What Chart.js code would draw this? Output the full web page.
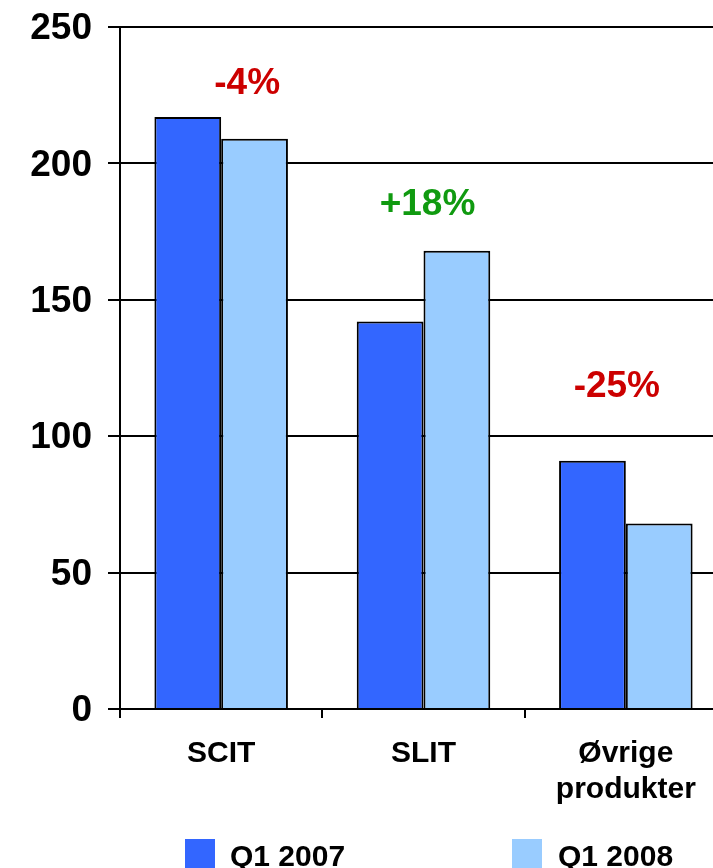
<!DOCTYPE html>
<html>
<head>
<meta charset="utf-8">
<script src="https://cdn.jsdelivr.net/npm/chart.js@4.4.0/dist/chart.umd.min.js"></script>
<style>
body { margin: 0; background: #fff; overflow: hidden; }
#wrap { width: 713px; height: 868px; overflow: hidden; position: relative; }
canvas { position: absolute; left: 0; top: 0; }
</style>
</head>
<body>
<div id="wrap"><canvas id="myChart" width="740" height="880"></canvas></div>
<script>
var categories = ['SCIT', 'SLIT', ['Øvrige', 'produkter']];
var q1_2007 = [217, 142, 91];
var q1_2008 = [209, 168, 68];
var changes = ['-4%', '+18%', '-25%'];
var changeY = [229, 185, 118];
var yTicks = [0, 50, 100, 150, 200, 250];

var changeColors = ['#CC0000', '#109A10', '#CC0000'];
var changeShift = [26, 4, -9];

Chart.defaults.font.family = "'Liberation Sans', Arial, sans-serif";
Chart.defaults.font.weight = 'bold';
Chart.defaults.color = '#000';

// percent change labels above each group
var changeLabels = {
    id: 'changeLabels',
    afterDatasetsDraw: function (chart) {
        var c = chart.ctx, x = chart.scales.x, y = chart.scales.y;
        c.save();
        c.font = "bold 37px 'Liberation Sans', Arial, sans-serif";
        c.textAlign = 'center';
        c.textBaseline = 'middle';
        changes.forEach(function (t, i) {
            c.fillStyle = changeColors[i];
            c.fillText(t, x.getPixelForValue(i) + changeShift[i], y.getPixelForValue(changeY[i]));
        });
        c.restore();
    }
};

// legend drawn at the bottom, wide apart like the original
var bottomLegend = {
    id: 'bottomLegend',
    afterDraw: function (chart) {
        var c = chart.ctx;
        var boxX = [185, 512], textX = [230, 558];
        c.save();
        c.font = "bold 30px 'Liberation Sans', Arial, sans-serif";
        c.textBaseline = 'alphabetic';
        chart.data.datasets.forEach(function (ds, i) {
            c.fillStyle = ds.backgroundColor;
            c.fillRect(boxX[i], 839, 30, 30);
            c.fillStyle = '#000';
            c.fillText(ds.label, textX[i], 866);
        });
        c.restore();
    }
};

var ctx = document.getElementById('myChart').getContext('2d');
var myChart = new Chart(ctx, {
    type: 'bar',
    data: {
        labels: categories,
        datasets: [{
            label: 'Q1 2007',
            data: q1_2007,
            backgroundColor: '#3366FF',
            borderColor: '#000',
            borderWidth: 2
        }, {
            label: 'Q1 2008',
            data: q1_2008,
            backgroundColor: '#99CCFF',
            borderColor: '#000',
            borderWidth: 2
        }]
    },
    options: {
        responsive: false,
        animation: false,
        devicePixelRatio: 1,
        categoryPercentage: 0.66,
        barPercentage: 1.0,
        layout: { padding: { top: 27, right: 13, left: 0, bottom: 0 } },
        plugins: {
            legend: { display: false },
            tooltip: { enabled: false }
        },
        scales: {
            x: {
                border: { color: '#000', width: 2 },
                grid: { drawOnChartArea: false, color: '#000', lineWidth: 2, tickLength: 9, offset: true },
                ticks: { font: { size: 30, lineHeight: 1.2 }, padding: 18, maxRotation: 0, autoSkip: false },
                afterFit: function (s) { s.height = 171; }
            },
            y: {
                min: 0,
                max: 250,
                border: { color: '#000', width: 2 },
                grid: { color: '#000', lineWidth: 2, tickLength: 12 },
                ticks: { font: { size: 37, lineHeight: 0.6 }, padding: 16, labelOffset: 2 },
                afterBuildTicks: function (s) { s.ticks = yTicks.map(function (v) { return { value: v }; }); },
                afterFit: function (s) { s.width = 120; s.paddingTop = 0; }
            }
        }
    },
    plugins: [changeLabels, bottomLegend]
});
</script>
</body>
</html>
